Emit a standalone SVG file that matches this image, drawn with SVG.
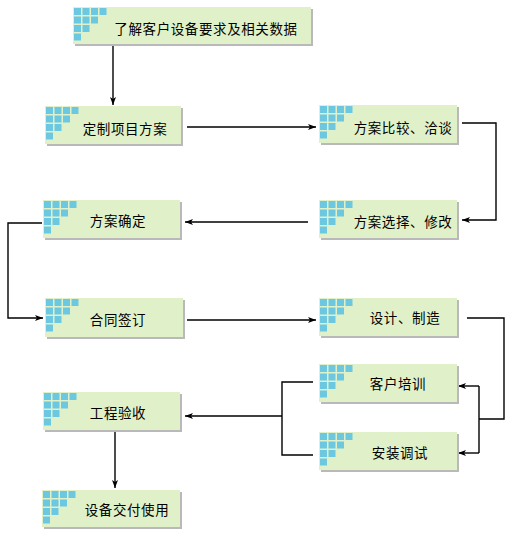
<svg xmlns="http://www.w3.org/2000/svg" xmlns:xlink="http://www.w3.org/1999/xlink" width="512" height="537" viewBox="0 0 512 537">
<style>
.box{fill:#E0F1C9;}
.sh{fill:#B9B9B9;}
.sq{fill:#6CC7E0;}
.t{font-family:"Noto Sans CJK SC","Noto Sans CJK JP",sans-serif;font-size:13.5px;fill:#000;text-anchor:middle;dominant-baseline:central;letter-spacing:0.6px;}
.c{fill:none;stroke:#000;stroke-width:1.4;}
</style>
<defs>
<marker id="ah" markerUnits="userSpaceOnUse" markerWidth="9" markerHeight="7" refX="8" refY="3.5" orient="auto">
<path d="M0,0.5 L8,3.5 L0,6.5 L2,3.5 z" fill="#000"/>
</marker>
<g id="sqs">
<rect class="sq" x="1" y="1" width="7" height="7"/>
<rect class="sq" x="9.5" y="1" width="7" height="7"/>
<rect class="sq" x="18" y="1" width="7" height="7"/>
<rect class="sq" x="26.5" y="1" width="7" height="7"/>
<rect class="sq" x="1" y="9.5" width="7" height="7"/>
<rect class="sq" x="9.5" y="9.5" width="7" height="7"/>
<rect class="sq" x="18" y="9.5" width="7" height="7"/>
<rect class="sq" x="1" y="18" width="7" height="7"/>
<rect class="sq" x="9.5" y="18" width="7" height="7"/>
<rect class="sq" x="1" y="26.5" width="7" height="7"/>
</g>
</defs>
<rect width="512" height="537" fill="#fff"/>
<g id="connectors">
<path class="c" d="M113 45 V105" stroke-width="2" marker-end="url(#ah)"/>
<path class="c" d="M187 127 H316" marker-end="url(#ah)"/>
<path class="c" d="M462 123 H496 V220 H462" marker-end="url(#ah)"/>
<path class="c" d="M308 222 H185" marker-end="url(#ah)"/>
<path class="c" d="M42 223 H8 V318 H43" marker-end="url(#ah)"/>
<path class="c" d="M187 320 H316" marker-end="url(#ah)"/>
<path class="c" d="M467 318 H504 V419 H479"/>
<path class="c" d="M479 386 V453"/>
<path class="c" d="M479 386 H458" marker-end="url(#ah)"/>
<path class="c" d="M479 453 H458" marker-end="url(#ah)"/>
<path class="c" d="M313 382 H282 V455 H313"/>
<path class="c" d="M282 416 H185" marker-end="url(#ah)"/>
<path class="c" d="M115 430 V488" marker-end="url(#ah)"/>
</g>
<g id="n1"><rect class="sh" x="75" y="9" width="238" height="37"/><rect class="box" x="73" y="7" width="238" height="37"/><use xlink:href="#sqs" x="73" y="7"/><text class="t" x="206" y="28">了解客户设备要求及相关数据</text></g>
<g id="n2"><rect class="sh" x="47" y="108" width="136" height="38"/><rect class="box" x="45" y="106" width="136" height="38"/><use xlink:href="#sqs" x="45" y="106"/><text class="t" x="125" y="128">定制项目方案</text></g>
<g id="n3"><rect class="sh" x="321" y="107" width="138" height="38"/><rect class="box" x="319" y="105" width="138" height="38"/><use xlink:href="#sqs" x="319" y="105"/><text class="t" x="403" y="127">方案比较、洽谈</text></g>
<g id="n4"><rect class="sh" x="321" y="202" width="138" height="38"/><rect class="box" x="319" y="200" width="138" height="38"/><use xlink:href="#sqs" x="319" y="200"/><text class="t" x="403" y="221">方案选择、修改</text></g>
<g id="n5"><rect class="sh" x="45" y="202" width="137" height="38"/><rect class="box" x="43" y="200" width="137" height="38"/><use xlink:href="#sqs" x="43" y="200"/><text class="t" x="118" y="220">方案确定</text></g>
<g id="n6"><rect class="sh" x="47" y="300" width="138" height="39"/><rect class="box" x="45" y="298" width="138" height="39"/><use xlink:href="#sqs" x="45" y="298"/><text class="t" x="118" y="319">合同签订</text></g>
<g id="n7"><rect class="sh" x="321" y="300" width="138" height="38"/><rect class="box" x="319" y="298" width="138" height="38"/><use xlink:href="#sqs" x="319" y="298"/><text class="t" x="405" y="317">设计、制造</text></g>
<g id="n8"><rect class="sh" x="321" y="366" width="138" height="38"/><rect class="box" x="319" y="364" width="138" height="38"/><use xlink:href="#sqs" x="319" y="364"/><text class="t" x="398" y="383">客户培训</text></g>
<g id="n9"><rect class="sh" x="321" y="434" width="138" height="38"/><rect class="box" x="319" y="432" width="138" height="38"/><use xlink:href="#sqs" x="319" y="432"/><text class="t" x="400" y="452">安装调试</text></g>
<g id="n10"><rect class="sh" x="45" y="394" width="137" height="38"/><rect class="box" x="43" y="392" width="137" height="38"/><use xlink:href="#sqs" x="43" y="392"/><text class="t" x="118" y="412">工程验收</text></g>
<g id="n11"><rect class="sh" x="44" y="492" width="138" height="37"/><rect class="box" x="42" y="490" width="138" height="37"/><use xlink:href="#sqs" x="42" y="490"/><text class="t" x="127" y="509">设备交付使用</text></g>
</svg>
